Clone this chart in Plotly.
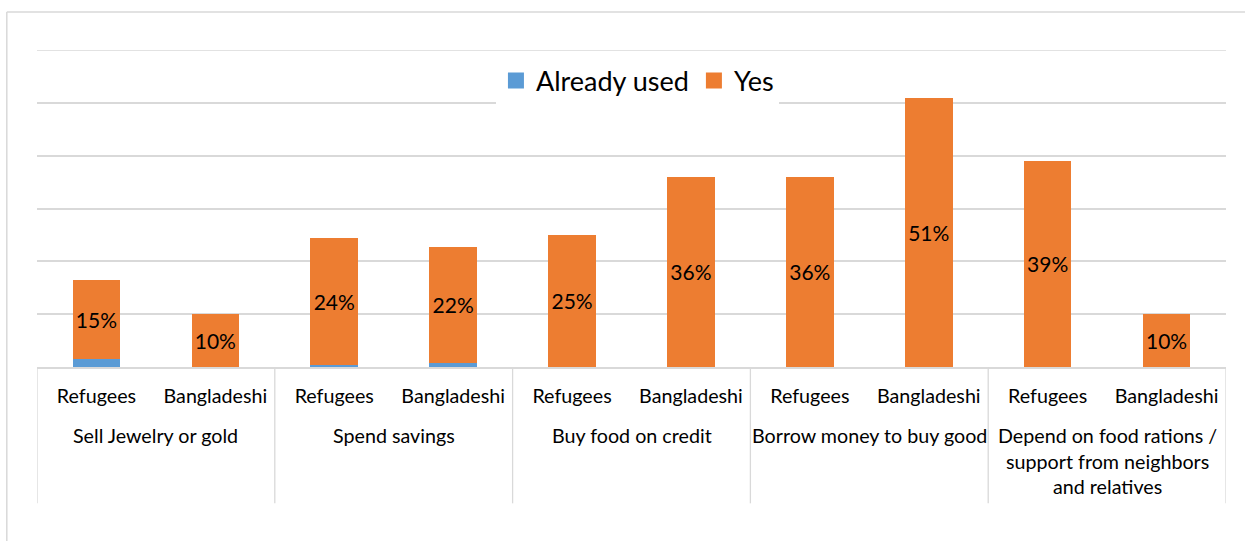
import plotly.graph_objects as go

# Coping strategies by group (percent of respondents)
strategies = [
    "Sell Jewelry or gold",
    "Spend savings",
    "Buy food on credit",
    "Borrow money to buy good",
    "Depend on food rations /<br>support from neighbors<br>and relatives",
]
groups = ["Refugees", "Bangladeshi"]

already_used = [1.5, 0.0, 0.4, 0.8, 0.0, 0.0, 0.0, 0.0, 0.0, 0.0]
yes_values = [15, 10, 24, 22, 25, 36, 36, 51, 39, 10]

BLUE = "#5B9BD5"
ORANGE = "#ED7D31"
GRID = "#D9D9D9"
FONT = "Lato, Carlito, Calibri, sans-serif"

n = len(strategies) * len(groups)
xs = list(range(n))
tick_text = [groups[i % 2] for i in xs]

fig = go.Figure()
fig.add_trace(go.Bar(
    x=xs, y=already_used, name="Already used",
    marker=dict(color=BLUE, line=dict(width=0)),
    width=0.4, showlegend=False,
    hoverinfo="skip",
))
fig.add_trace(go.Bar(
    x=xs, y=yes_values, name="Yes",
    marker=dict(color=ORANGE, line=dict(width=0)),
    width=0.4, showlegend=False,
    text=[f"{v}%" for v in yes_values],
    textposition="inside",
    insidetextanchor="middle",
    textangle=0,
    constraintext="none",
    textfont=dict(family=FONT, size=21, color="#000000"),
    hoverinfo="skip",
))
# legend entries with larger square keys
for name, color in (("Already used", BLUE), ("Yes", ORANGE)):
    fig.add_trace(go.Scatter(
        x=[None], y=[None], mode="markers", name=name,
        marker=dict(symbol="square", size=17, color=color),
        showlegend=True, hoverinfo="skip",
    ))

shapes = []
# group dividers below the axis
for k in range(len(strategies) + 1):
    xv = -0.5 + 2 * k
    shapes.append(dict(type="line", xref="x", yref="paper",
                       x0=xv, x1=xv, y0=0, y1=-0.43,
                       line=dict(color=GRID, width=1.3)))
# top gridline at the upper end of the value range
shapes.append(dict(type="line", xref="paper", yref="y",
                   x0=0, x1=1, y0=60, y1=60,
                   line=dict(color=GRID, width=1.5), layer="below"))
# outer chart frame (left and top edges)
shapes.append(dict(type="line", xref="paper", yref="paper",
                   x0=-0.0254, x1=1.2, y0=1.1198, y1=1.1198,
                   line=dict(color=GRID, width=1.5)))
shapes.append(dict(type="line", xref="paper", yref="paper",
                   x0=-0.0254, x1=-0.0254, y0=1.1198, y1=-1.0,
                   line=dict(color=GRID, width=1.5)))

annotations = []
for i, s in enumerate(strategies):
    annotations.append(dict(
        x=2 * i + 0.5, xref="x", y=-0.174, yref="paper",
        text=s, showarrow=False, xanchor="center", yanchor="top",
        align="center",
        font=dict(family=FONT, size=19.7, color="#000000"),
    ))

fig.update_layout(
    barmode="stack",
    width=1245, height=541,
    margin=dict(l=37, r=19, t=50, b=174),
    paper_bgcolor="white", plot_bgcolor="white",
    font=dict(family=FONT, size=19.7, color="#000000"),
    showlegend=True,
    legend=dict(orientation="h", x=0.505, xanchor="center",
                y=0.902, yanchor="middle",
                font=dict(family=FONT, size=27, color="#000000"),
                bgcolor="white", traceorder="normal",
                itemwidth=30),
    xaxis=dict(
        range=[-0.5, n - 0.5],
        tickvals=xs, ticktext=tick_text,
        ticks="outside", ticklen=11, tickcolor="rgba(0,0,0,0)",
        showgrid=False, zeroline=False,
        showline=True, linecolor=GRID, linewidth=1.5,
        tickfont=dict(family=FONT, size=19.7, color="#000000"),
    ),
    yaxis=dict(
        range=[0, 60], dtick=10,
        showgrid=True, gridcolor=GRID, gridwidth=1.5,
        showticklabels=False, zeroline=False, showline=False,
    ),
    shapes=shapes,
    annotations=annotations,
)

fig.write_html("out.html")
